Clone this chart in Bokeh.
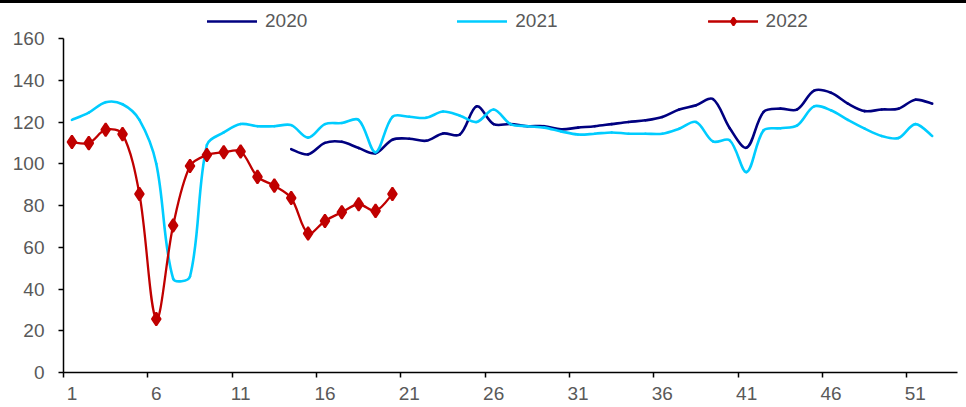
import numpy as np
from bokeh.plotting import figure
from bokeh.models import FixedTicker, Legend, LegendItem, Range1d
from bokeh.embed import file_html
from bokeh.resources import INLINE

# Weekly index values by year
weeks_2020 = list(range(14, 53))
values_2020 = [107.0, 104.5, 110.0, 110.5, 107.5, 105.0, 111.5, 112.0, 111.0, 114.5,
               114.0, 127.5, 119.0, 119.0, 118.0, 118.0, 116.5, 117.3, 118.0, 119.0,
               120.0, 120.8, 122.4, 126.0, 128.0, 131.0, 117.0, 107.7, 124.8, 126.4,
               126.0, 135.0, 134.0, 128.8, 125.2, 126.0, 126.4, 130.7, 128.8]

weeks_2021 = list(range(1, 53))
values_2021 = [121.0, 124.5, 129.5, 128.5, 121.0, 100.0, 45.0, 46.0, 109.0, 115.0,
               119.0, 118.0, 118.0, 118.5, 112.5, 119.0, 119.5, 121.0, 105.5, 122.5,
               122.5, 122.0, 125.0, 123.0, 120.0, 126.0, 119.0, 118.0, 117.3, 115.5,
               114.0, 114.4, 115.0, 114.4, 114.4, 114.4, 116.8, 120.0, 110.7, 111.2,
               96.0, 116.0, 117.0, 118.4, 127.5, 125.6, 121.0, 116.8, 113.3, 112.3,
               119.0, 113.3]

weeks_2022 = list(range(1, 21))
values_2022 = [110.4, 109.9, 116.3, 114.2, 85.5, 25.6, 70.4, 98.9, 104.2, 105.5,
               105.9, 93.7, 89.5, 83.6, 66.6, 72.6, 76.8, 80.6, 77.4, 85.5]

series_names = ["2020", "2021", "2022"]
series_colors = ["#000080", "#00CCFF", "#C00000"]

x_tick_values = [1, 6, 11, 16, 21, 26, 31, 36, 41, 46, 51]
x_tick_labels = ["1", "6", "11", "16", "21", "26", "31", "36", "41", "46", "51"]
y_tick_values = [0, 20, 40, 60, 80, 100, 120, 140, 160]

TEXT_COLOR = "#595959"
FONT = "Liberation Sans"

X_MIN, X_MAX, Y_MIN, Y_MAX = 0.5, 53.5, 0, 160
FRAME_W = 894          # plot area width in px
AXIS_H = 334           # px between 0 and 160 on the value axis
HEADROOM = 35          # px above 160 kept free for the legend
Y_TOP = Y_MAX + HEADROOM * (Y_MAX - Y_MIN) / AXIS_H


def smooth_segments(xs, ys):
    """Cubic Bezier pieces through every point; tangent arms are split in
    proportion to the on-screen length of the neighbouring segments so that
    steep drops do not overshoot."""
    x = np.asarray(xs, dtype=float)
    y = np.asarray(ys, dtype=float)
    kx = FRAME_W / (X_MAX - X_MIN)
    ky = AXIS_H / (Y_MAX - Y_MIN)
    n = len(x)
    qx = np.concatenate([[x[0]], x, [x[-1]]])
    qy = np.concatenate([[y[0]], y, [y[-1]]])
    d = np.hypot(np.diff(qx) * kx, np.diff(qy) * ky)  # length of segment j -> j+1
    out_cx, out_cy, in_cx, in_cy = [], [], [], []
    for i in range(n):
        j = i + 1
        tx = qx[j + 1] - qx[j - 1]
        ty = qy[j + 1] - qy[j - 1]
        dp, dn = d[j - 1], d[j]
        if i == 0:
            dp = dn
        if i == n - 1:
            dn = dp
        tot = dp + dn if dp + dn > 0 else 1.0
        out_cx.append(x[i] + tx * dn / tot / 3.0)
        out_cy.append(y[i] + ty * dn / tot / 3.0)
        in_cx.append(x[i] - tx * dp / tot / 3.0)
        in_cy.append(y[i] - ty * dp / tot / 3.0)
    return dict(x0=x[:-1], y0=y[:-1], x1=x[1:], y1=y[1:],
                cx0=np.array(out_cx[:-1]), cy0=np.array(out_cy[:-1]),
                cx1=np.array(in_cx[1:]), cy1=np.array(in_cy[1:]))


p = figure(width=966, height=404, output_backend="svg", toolbar_location=None,
           title=None,
           x_range=Range1d(X_MIN, X_MAX), y_range=Range1d(Y_MIN, Y_TOP),
           min_border_left=63, min_border_right=9, min_border_top=0,
           min_border_bottom=35)
p.styles = {"border-top": "3px solid #000000"}
p.outline_line_color = None
p.xgrid.visible = False
p.ygrid.visible = False
p.background_fill_color = "white"
p.border_fill_color = "white"

renderers = []
for xs, ys, color, width in [(weeks_2020, values_2020, series_colors[0], 2.6),
                             (weeks_2021, values_2021, series_colors[1], 2.6),
                             (weeks_2022, values_2022, series_colors[2], 2.3)]:
    seg = smooth_segments(xs, ys)
    r = p.bezier(x0=seg["x0"], y0=seg["y0"], x1=seg["x1"], y1=seg["y1"],
                 cx0=seg["cx0"], cy0=seg["cy0"], cx1=seg["cx1"], cy1=seg["cy1"],
                 line_color=color, line_width=width, line_cap="round")
    renderers.append(r)

markers = p.scatter(weeks_2022, values_2022, marker="diamond",
                    size=13, fill_color=series_colors[2],
                    line_color=series_colors[2], line_width=2)

# x axis: tick marks sit between categories, labels at category centres
xaxis = p.xaxis[0]
xaxis.ticker = FixedTicker(ticks=x_tick_values,
                           minor_ticks=[v - 0.5 for v in x_tick_values])
xaxis.major_label_overrides = {v: s for v, s in zip(x_tick_values, x_tick_labels)}
xaxis.major_tick_line_color = None
xaxis.major_tick_out = 5
xaxis.major_tick_in = 0
xaxis.minor_tick_line_color = "black"
xaxis.minor_tick_line_width = 1.5
xaxis.minor_tick_out = 5
xaxis.minor_tick_in = 0
xaxis.major_label_standoff = 9

yaxis = p.yaxis[0]
yaxis.ticker = FixedTicker(ticks=y_tick_values)
yaxis.bounds = (Y_MIN, Y_MAX)
yaxis.major_tick_line_color = "black"
yaxis.major_tick_line_width = 1.5
yaxis.major_tick_out = 5
yaxis.major_tick_in = 0
yaxis.minor_tick_line_color = None
yaxis.major_label_standoff = 14

for ax in (xaxis, yaxis):
    ax.axis_line_color = "black"
    ax.axis_line_width = 1.5
    ax.major_label_text_font = FONT
    ax.major_label_text_font_size = "19px"
    ax.major_label_text_color = TEXT_COLOR

legend = Legend(items=[LegendItem(label=series_names[0], renderers=[renderers[0]]),
                       LegendItem(label=series_names[1], renderers=[renderers[1]]),
                       LegendItem(label=series_names[2], renderers=[renderers[2], markers])],
                orientation="horizontal", location=(144, 340),
                glyph_width=50, glyph_height=20, label_standoff=8, spacing=150,
                padding=0, margin=0, border_line_color=None,
                background_fill_alpha=0,
                label_text_font=FONT, label_text_font_size="19px",
                label_text_color=TEXT_COLOR)
p.add_layout(legend, "center")

open("out.html", "w").write(file_html(p, INLINE))
